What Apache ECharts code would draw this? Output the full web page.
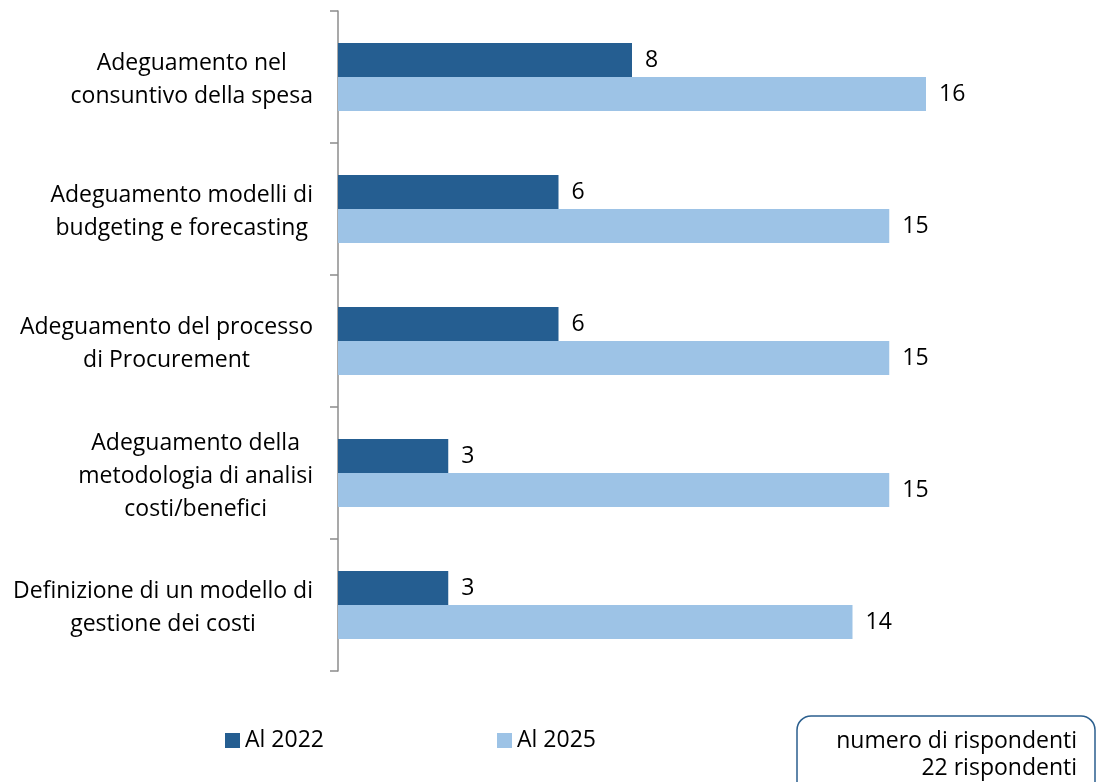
<!DOCTYPE html>
<html>
<head>
<meta charset="utf-8">
<script src="https://cdn.jsdelivr.net/npm/echarts@6/dist/echarts.min.js"></script>
<style>
  html, body { margin: 0; padding: 0; background: #ffffff; }
  #chart { width: 1097px; height: 782px; }
</style>
</head>
<body>
<div id="chart"></div>
<script>
// Categories, top to bottom; each entry holds the wrapped lines of its label
var categories = [
  ['Adeguamento nel', 'consuntivo della spesa'],
  ['Adeguamento modelli di', 'budgeting e forecasting'],
  ['Adeguamento del processo', 'di Procurement'],
  ['Adeguamento della', 'metodologia di analisi', 'costi/benefici'],
  ['Definizione di un modello di', 'gestione dei costi']
];
var seriesNames = ['Al 2022', 'Al 2025'];
var values2022 = [8, 6, 6, 3, 3];
var values2025 = [16, 15, 15, 15, 14];
var noteLines = ['numero di rispondenti', '22 rispondenti'];

var FONT = '"Open Sans", Lato, sans-serif';
var FS = 23;
var DARK = '#255E91';
var LIGHT = '#9DC3E6';

var catKeys = categories.map(function (lines, i) { return 'c' + i; });

var chart = echarts.init(document.getElementById('chart'), null, { renderer: 'canvas' });

function barSeries(name, data, color) {
  return {
    name: name,
    type: 'bar',
    data: data,
    barWidth: 34,
    barGap: '0%',
    itemStyle: { color: color },
    label: {
      show: true,
      position: 'right',
      distance: 13,
      color: '#000000',
      fontFamily: FONT,
      fontSize: FS
    }
  };
}

function legendAt(name, left) {
  return {
    data: [name],
    left: left, top: 729,
    padding: 0,
    itemWidth: 15, itemHeight: 15, itemGap: 0,
    icon: 'rect',
    textStyle: { fontFamily: FONT, fontSize: FS, color: '#000000' }
  };
}

chart.setOption({
  animation: false,
  backgroundColor: '#ffffff',
  grid: { left: 338, top: 11, bottom: 111, right: 24, containLabel: false },
  xAxis: {
    type: 'value',
    min: 0,
    max: 20,
    show: false
  },
  yAxis: {
    type: 'category',
    inverse: true,
    data: catKeys,
    axisLine: { show: true, lineStyle: { color: '#8c8c8c', width: 1.5 } },
    axisTick: { show: true, length: 8, lineStyle: { color: '#8c8c8c', width: 1.5 } },
    splitLine: { show: false },
    axisLabel: {
      margin: 25,
      align: 'right',
      padding: [6, 0, 0, 0],
      color: '#000000',
      fontFamily: FONT,
      fontSize: FS,
      lineHeight: 33,
      formatter: function (value, index) {
        return categories[index].map(function (line) {
          return '{c|' + line + '}';
        }).join('\n');
      },
      rich: {
        c: { align: 'center', fontFamily: FONT, fontSize: FS, lineHeight: 33, color: '#000000' }
      }
    }
  },
  legend: [
    legendAt(seriesNames[0], 225),
    legendAt(seriesNames[1], 497)
  ],
  graphic: [
    {
      type: 'rect',
      shape: { x: 797, y: 716, width: 298, height: 80, r: 14 },
      style: { fill: '#ffffff', stroke: '#2B5F8E', lineWidth: 1.5 }
    },
    {
      type: 'text',
      x: 1077, y: 741,
      style: {
        text: noteLines[0], align: 'right', verticalAlign: 'middle',
        font: FS + 'px ' + FONT, fill: '#000000'
      }
    },
    {
      type: 'text',
      x: 1077, y: 768,
      style: {
        text: noteLines[1], align: 'right', verticalAlign: 'middle',
        font: FS + 'px ' + FONT, fill: '#000000'
      }
    }
  ],
  series: [
    barSeries(seriesNames[0], values2022, DARK),
    barSeries(seriesNames[1], values2025, LIGHT)
  ]
});
</script>
</body>
</html>
